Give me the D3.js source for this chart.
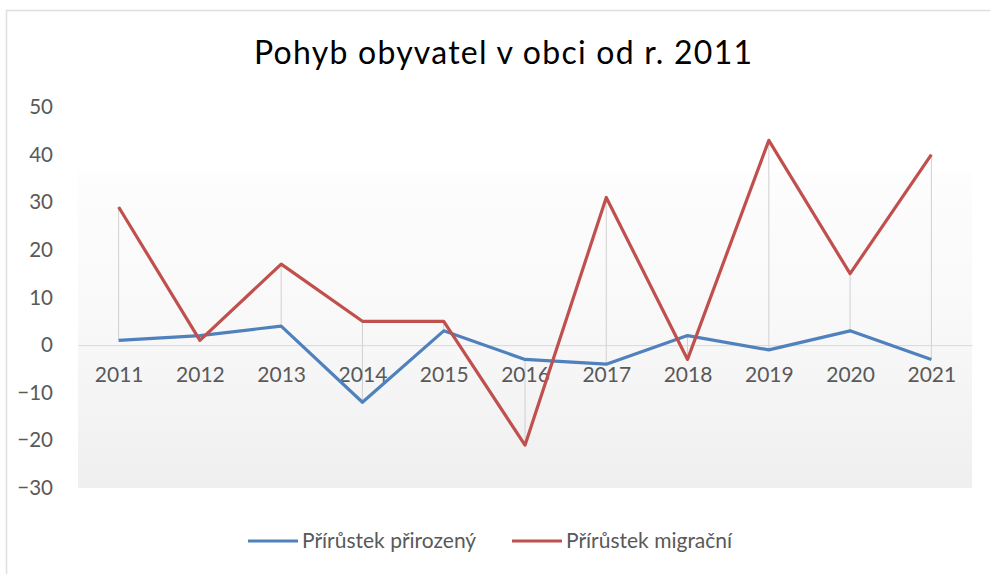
<!DOCTYPE html>
<html><head><meta charset="utf-8">
<script src="https://cdn.jsdelivr.net/npm/d3@7"></script>
<style>
html,body{margin:0;padding:0;background:#fff;}
svg{display:block;}
text{font-family:Lato,"Open Sans",sans-serif;}
</style></head>
<body>
<svg id="c" width="990" height="574"></svg>
<script>
const years = ["2011","2012","2013","2014","2015","2016","2017","2018","2019","2020","2021"];
const prirozeny = [1, 2, 4, -12, 3, -3, -4, 2, -1, 3, -3];
const migracni = [29, 1, 17, 5, 5, -21, 31, -3, 43, 15, 40];
const yTicks = [-30, -20, -10, 0, 10, 20, 30, 40, 50];
const seriesNames = ["Přírůstek přirozený", "Přírůstek migrační"];
const title = "Pohyb obyvatel v obci od r. 2011";

const colors = ["#4f81bd", "#c0504d"];
const svg = d3.select("#c");
const W = 990, H = 574;
const plot = {left: 78, right: 972, top: 107, bottom: 488};

// outer border
svg.append("rect").attr("x", 6.5).attr("y", 10.5).attr("width", W).attr("height", H)
  .attr("fill", "none").attr("stroke", "#dedede").attr("stroke-width", 1.5);

// background gradient
const defs = svg.append("defs");
const g = defs.append("linearGradient").attr("id", "bg").attr("x1", 0).attr("y1", 0).attr("x2", 0).attr("y2", 1);
g.append("stop").attr("offset", "0%").attr("stop-color", "#fdfdfd");
g.append("stop").attr("offset", "50%").attr("stop-color", "#f8f8f8");
g.append("stop").attr("offset", "100%").attr("stop-color", "#efefef");
svg.append("rect").attr("x", plot.left).attr("y", 172).attr("width", plot.right - plot.left)
  .attr("height", plot.bottom - 172).attr("fill", "url(#bg)");

const x = d3.scalePoint().domain(years).range([plot.left, plot.right]).padding(0.5);
const y = d3.scaleLinear().domain([-30, 50]).range([plot.bottom, plot.top]);

// title
svg.append("text").attr("x", 503).attr("y", 64).attr("text-anchor", "middle")
  .attr("font-size", 32).attr("fill", "#000")
  .attr("textLength", 498).attr("lengthAdjust", "spacing").text(title);

// y axis
const ya = svg.append("g").attr("transform", `translate(53,0)`)
  .call(d3.axisLeft(y).tickValues(yTicks).tickSize(0).tickPadding(0).tickFormat(d3.format("d")));
ya.select(".domain").remove();
ya.selectAll("text").attr("font-size", 20.5).attr("fill", "#595959").attr("font-family", "Lato");

// high-low lines
svg.append("g").selectAll("line").data(years).join("line")
  .attr("x1", d => x(d)).attr("x2", d => x(d))
  .attr("y1", (d, i) => y(Math.max(prirozeny[i], migracni[i])))
  .attr("y2", (d, i) => y(Math.min(prirozeny[i], migracni[i])))
  .attr("stroke", "#d0d0d0").attr("stroke-width", 1);

// x axis at zero
const xa = svg.append("g").attr("transform", `translate(0,${y(0)})`)
  .call(d3.axisBottom(x).tickSize(0).tickSizeOuter(0).tickPadding(22));
xa.select(".domain").attr("stroke", "#d9d9d9").attr("stroke-width", 1);
xa.selectAll("text").attr("font-size", 21).attr("fill", "#595959").attr("font-family", "Lato");

// lines
const line = d3.line().x((d, i) => x(years[i])).y(d => y(d));
[prirozeny, migracni].forEach((s, k) => {
  svg.append("path").datum(s).attr("d", line).attr("fill", "none")
    .attr("stroke", colors[k]).attr("stroke-width", 3.2).attr("stroke-linejoin", "round");
});

// legend
const legendX = [248, 512];
seriesNames.forEach((n, k) => {
  const lg = svg.append("g").attr("transform", `translate(${legendX[k]},541)`);
  lg.append("line").attr("x1", 0).attr("x2", 50).attr("y1", 0).attr("y2", 0)
    .attr("stroke", colors[k]).attr("stroke-width", 3);
  lg.append("text").attr("x", 54).attr("y", 7).attr("font-size", 21).attr("fill", "#595959").text(n);
});
</script>
</body></html>
